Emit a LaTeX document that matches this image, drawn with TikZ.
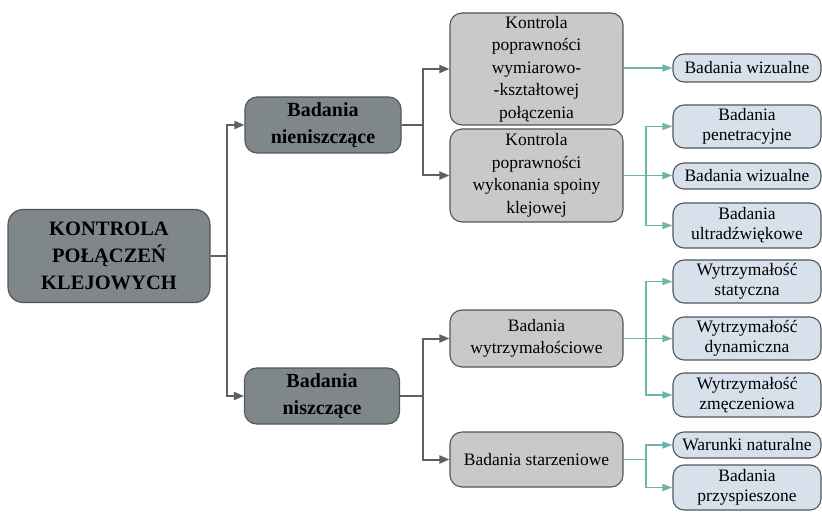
\documentclass[tikz,border=0pt]{standalone}
\usepackage{fontspec}
\setmainfont{Liberation Serif}
\usetikzlibrary{arrows.meta}
\definecolor{darkbox}{HTML}{80878A}
\definecolor{midbox}{HTML}{C9C9C9}
\definecolor{leafbox}{HTML}{D6E1EB}
\definecolor{edgegray}{HTML}{50575B}
\definecolor{linkgray}{HTML}{5A6165}
\definecolor{teal}{HTML}{6DB4AA}
\tikzset{
  box/.style={draw=edgegray, line width=1.1pt, align=center, inner sep=2pt},
  rootbox/.style={box, fill=darkbox, rounded corners=15pt,
    font=\fontsize{20.5}{27}\selectfont\bfseries},
  lvltwo/.style={box, fill=darkbox, rounded corners=12pt,
    font=\fontsize{20}{27}\selectfont\bfseries},
  lvlthree/.style={box, fill=midbox, rounded corners=12pt,
    font=\fontsize{17.5}{22.5}\selectfont},
  leaf/.style={box, fill=leafbox, rounded corners=11pt,
    font=\fontsize{17.5}{20}\selectfont},
  glink/.style={draw=linkgray, line width=2pt,
    -{Triangle[length=10pt,width=8pt]}},
  gline/.style={draw=linkgray, line width=2pt},
  tlink/.style={draw=teal, line width=1.4pt,
    -{Triangle[length=10pt,width=7pt]}},
  tline/.style={draw=teal, line width=1.4pt},
}
\begin{document}
\begin{tikzpicture}[x=1pt,y=-1pt]
\useasboundingbox (0,0) rectangle (822,513);

% root
\node[rootbox, minimum width=202pt, minimum height=93pt] (root) at (109,256)
  {KONTROLA\\POŁĄCZEŃ\\KLEJOWYCH};

% second level
\node[lvltwo, minimum width=156pt, minimum height=56pt] (nn) at (323,125)
  {Badania\\nieniszczące};
\node[lvltwo, minimum width=155pt, minimum height=56pt] (nsz) at (322,396)
  {Badania\\niszczące};

% third level
\node[lvlthree, minimum width=173pt, minimum height=112pt] (k1) at (536.5,69)
  {Kontrola\\poprawności\\wymiarowo-\\-kształtowej\\połączenia};
\node[lvlthree, minimum width=173pt, minimum height=93pt] (k2) at (536.5,175.5)
  {Kontrola\\poprawności\\wykonania spoiny\\klejowej};
\node[lvlthree, minimum width=173pt, minimum height=57pt] (bw) at (536.5,338.5)
  {Badania\\wytrzymałościowe};
\node[lvlthree, minimum width=173pt, minimum height=55pt] (bs) at (536.5,459.5)
  {Badania starzeniowe};

% leaves
\node[leaf, minimum width=148pt, minimum height=28pt] (l1) at (747,68) {Badania wizualne};
\node[leaf, minimum width=148pt, minimum height=43pt] (l2) at (747,126.5) {Badania\\penetracyjne};
\node[leaf, minimum width=148pt, minimum height=26pt] (l3) at (747,176) {Badania wizualne};
\node[leaf, minimum width=148pt, minimum height=45pt] (l4) at (747,225.5) {Badania\\ultradźwiękowe};
\node[leaf, minimum width=148pt, minimum height=43pt] (l5) at (747,281.5) {Wytrzymałość\\statyczna};
\node[leaf, minimum width=148pt, minimum height=43pt] (l6) at (747,338.5) {Wytrzymałość\\dynamiczna};
\node[leaf, minimum width=148pt, minimum height=44pt] (l7) at (747,395) {Wytrzymałość\\zmęczeniowa};
\node[leaf, minimum width=148pt, minimum height=26pt] (l8) at (747,445) {Warunki naturalne};
\node[leaf, minimum width=148pt, minimum height=45pt] (l9) at (747,487.5) {Badania\\przyspieszone};

% junction points
\coordinate (j0) at (227,256);
\coordinate (j1) at (423,125);
\coordinate (j2) at (423,396);
\coordinate (j3) at (646,175.5);
\coordinate (j4) at (646,338.5);
\coordinate (j5) at (646,459.5);

% gray connectors
\draw[gline] (root.east) -- (j0);
\draw[glink] (j0) |- (nn.west);
\draw[glink] (j0) |- (nsz.west);
\draw[gline] (nn.east) -- (j1);
\draw[glink] (j1) |- (k1.west);
\draw[glink] (j1) |- (k2.west);
\draw[gline] (nsz.east) -- (j2);
\draw[glink] (j2) |- (bw.west);
\draw[glink] (j2) |- (bs.west);

% teal connectors
\draw[tlink] (k1.east |- l1.west) -- (l1.west);
\draw[tline] (k2.east) -- (j3);
\draw[tlink] (j3) |- (l2.west);
\draw[tlink] (j3) -- (j3 -| l3.west);
\draw[tlink] (j3) |- (l4.west);
\draw[tline] (bw.east) -- (j4);
\draw[tlink] (j4) |- (l5.west);
\draw[tlink] (j4) -- (l6.west);
\draw[tlink] (j4) |- (l7.west);
\draw[tline] (bs.east) -- (j5);
\draw[tlink] (j5) |- (l8.west);
\draw[tlink] (j5) |- (l9.west);
\end{tikzpicture}
\end{document}
